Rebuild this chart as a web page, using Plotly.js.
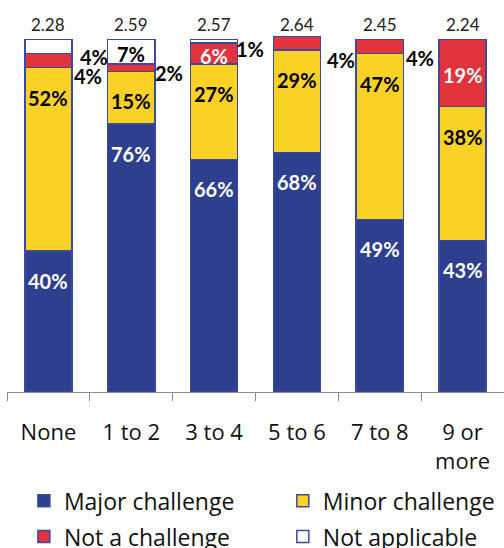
<!DOCTYPE html>
<html>
<head>
<meta charset="utf-8">
<script src="https://cdn.plot.ly/plotly-3.0.1.min.js"></script>
<style>
  html, body { margin: 0; padding: 0; background: #fff; overflow: hidden; }
  #frame { width: 504px; height: 548px; overflow: hidden; }
  #chart { width: 504px; height: 566px; }
</style>
</head>
<body>
<div id="frame"><div id="chart"></div></div>
<script>
// Share of respondents per group, stacked to 100%
const categories = ['None', '1 to 2', '3 to 4', '5 to 6', '7 to 8', '9 or more'];
const tickLabels = ['None', '1 to 2', '3 to 4', '5 to 6', '7 to 8', '9 or<br>more'];
const meanScores = ['2.28', '2.59', '2.57', '2.64', '2.45', '2.24'];
const majorChallenge = [40, 76, 66, 68, 49, 43];
const minorChallenge = [52, 15, 27, 29, 47, 38];
const notAChallenge = [4, 2, 6, 4, 4, 19];
const notApplicable = [4, 7, 1, 0, 0, 0];

const FONT = 'Lato, "Open Sans", sans-serif';
const TEXT_FONT = '"Open Sans", Lato, sans-serif';
const EDGE = '#3A4A9E';

const series = [
  { name: 'Major challenge', values: majorChallenge, fill: '#2F3F8F', text: '#ffffff', place: 'top', legend: 'legend' },
  { name: 'Minor challenge', values: minorChallenge, fill: '#F9D225', text: '#000000', place: 'top', legend: 'legend2' },
  { name: 'Not a challenge', values: notAChallenge, fill: '#E2333C', text: '#ffffff', place: 'center', legend: 'legend' },
  { name: 'Not applicable', values: notApplicable, fill: '#ffffff', text: '#000000', place: 'center', legend: 'legend2' }
];

// Pixel offsets for the small segment labels drawn beside the bars
const sideLabelOffsets = {
  'Not applicable|None': [46, -10],
  'Not a challenge|None': [40, -15],
  'Not a challenge|1 to 2': [38, -5],
  'Not applicable|3 to 4': [36, -8],
  'Not a challenge|5 to 6': [44, -17],
  'Not a challenge|7 to 8': [40, -11]
};

const traces = series.map((s, k) => ({
  type: 'bar',
  name: s.name,
  x: categories,
  y: s.values,
  legend: s.legend,
  legendgroup: 'g' + k,
  marker: { color: s.fill, line: { color: EDGE, width: 1.5 } },
  hoverinfo: 'skip'
}));

const annotations = [];
const base = categories.map(() => 0);
series.forEach(s => {
  s.values.forEach((v, i) => {
    const cat = categories[i];
    const top = base[i] + v;
    if (v > 0) {
      const label = '<b>' + v + '%</b>';
      if (v >= 6) {
        const onTop = s.place === 'top';
        annotations.push({
          x: cat, y: onTop ? top : base[i] + v / 2,
          xref: 'x', yref: 'y',
          yshift: onTop ? -30 : -2,
          text: label,
          showarrow: false,
          font: { family: FONT, size: 20, color: s.text }
        });
      } else {
        const off = sideLabelOffsets[s.name + '|' + cat] || [40, 0];
        annotations.push({
          x: cat, y: base[i] + v / 2,
          xref: 'x', yref: 'y',
          xshift: off[0], yshift: off[1],
          text: label,
          showarrow: false,
          font: { family: FONT, size: 20, color: '#000000' }
        });
      }
    }
    base[i] = top;
  });
});

// Mean score above each bar
meanScores.forEach((m, i) => {
  annotations.push({
    x: categories[i], y: 100,
    xref: 'x', yref: 'y',
    yanchor: 'bottom', yshift: 3,
    text: m,
    showarrow: false,
    font: { family: FONT, size: 17, color: '#222222' }
  });
});

const legendStyle = {
  orientation: 'v',
  xanchor: 'left',
  yanchor: 'top',
  y: -0.245,
  traceorder: 'grouped',
  tracegroupgap: 3,
  font: { family: TEXT_FONT, size: 23, color: '#111111' },
  bgcolor: 'rgba(0,0,0,0)'
};

const layout = {
  width: 504,
  height: 566,
  margin: { l: 7, r: 0, t: 36, b: 174 },
  paper_bgcolor: '#ffffff',
  plot_bgcolor: '#ffffff',
  barmode: 'stack',
  bargap: 0.43,
  font: { family: FONT, color: '#111111' },
  xaxis: {
    type: 'category',
    tickvals: categories,
    ticktext: tickLabels,
    showline: true,
    linecolor: '#8C8C8C',
    linewidth: 1,
    ticks: 'outside',
    tickson: 'boundaries',
    ticklen: 8,
    tickcolor: '#8C8C8C',
    tickwidth: 1,
    ticklabelstandoff: 21,
    tickfont: { family: TEXT_FONT, size: 22, color: '#111111' },
    showgrid: false,
    zeroline: false,
    fixedrange: true
  },
  yaxis: {
    range: [0, 101],
    visible: false,
    fixedrange: true
  },
  showlegend: true,
  legend: Object.assign({}, legendStyle, { x: 0.034 }),
  legend2: Object.assign({}, legendStyle, { x: 0.555 }),
  annotations: annotations
};

Plotly.newPlot('chart', traces, layout, { displayModeBar: false, staticPlot: true });
</script>
</body>
</html>
